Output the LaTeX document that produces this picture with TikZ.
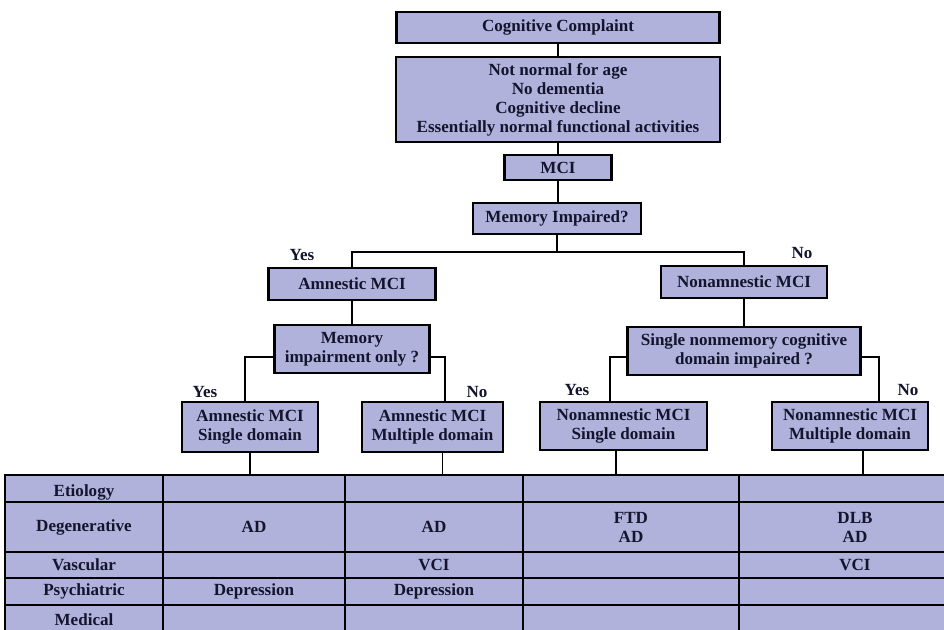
\documentclass[tikz,border=0pt]{standalone}
\usepackage{fontspec}
\setmainfont{Liberation Serif}
\usepackage{xcolor}
\usepackage{tikz}
\usetikzlibrary{positioning}

\definecolor{boxfill}{RGB}{176,178,220}
\definecolor{inkblue}{RGB}{20,20,45}

\begin{document}
\begin{tikzpicture}[
  every node/.style={font=\fontsize{9.7}{10.8}\selectfont\bfseries, text=inkblue},
  box/.style={draw=black, fill=boxfill, line width=1.6pt, align=center, inner sep=2pt},
  link/.style={line width=1.1pt},
  grid/.style={line width=1.1pt},
  frame/.style={line width=1.6pt},
  answer/.style={inner sep=1pt}
]

\clip (0,0) rectangle (18.88,-12.58);

% --- Top of the tree ---
\node[box, minimum width=6.46cm, minimum height=0.62cm] (complaint) at (11.16,-0.55) {Cognitive Complaint};
\node[box, minimum width=6.48cm, minimum height=1.70cm] (criteria) at (11.16,-1.99)
  {Not normal for age\\No dementia\\Cognitive decline\\Essentially normal functional activities};
\node[box, minimum width=2.14cm, minimum height=0.50cm] (mci) at (11.16,-3.35) {MCI};
\node[box, minimum width=3.36cm, minimum height=0.62cm] (memq) at (11.14,-4.37) {Memory Impaired?};

% --- Amnestic / nonamnestic ---
\node[box, minimum width=3.34cm, minimum height=0.64cm] (amci) at (7.04,-5.68) {Amnestic MCI};
\node[box, minimum width=3.32cm, minimum height=0.64cm] (namci) at (14.88,-5.64) {Nonamnestic MCI};
\node[box, minimum width=3.10cm, minimum height=0.96cm] (memonly) at (7.04,-6.98) {Memory\\impairment only ?};
\node[box, minimum width=4.66cm, minimum height=0.96cm] (nonmemq) at (14.88,-7.02) {Single nonmemory cognitive\\domain impaired ?};

% --- Subtypes ---
\node[box, minimum width=2.72cm, minimum height=1.0cm] (amsingle) at (5.0,-8.54) {Amnestic MCI\\Single domain};
\node[box, minimum width=2.82cm, minimum height=1.0cm] (ammulti) at (8.65,-8.54) {Amnestic MCI\\Multiple domain};
\node[box, minimum width=3.34cm, minimum height=0.96cm] (nasingle) at (12.47,-8.52) {Nonamnestic MCI\\Single domain};
\node[box, minimum width=3.12cm, minimum height=0.96cm] (namulti) at (17.0,-8.52) {Nonamnestic MCI\\Multiple domain};

% --- Answers ---
\node[answer] (yes1) at (6.04,-5.1) {Yes};
\node[answer] (no1) at (16.04,-5.06) {No};
\node[answer] (yes2) at (4.1,-7.84) {Yes};
\node[answer] (no2) at (9.54,-7.84) {No};
\node[answer] (yes3) at (11.54,-7.8) {Yes};
\node[answer] (no3) at (18.16,-7.8) {No};

% --- Connectors ---
\coordinate (split) at (11.14,-5.04);
\coordinate (tabtop) at (0.1,-9.5);

\draw[link] (complaint.south) -- (criteria.north);
\draw[link] (criteria.south) -- (mci.north);
\draw[link] (mci.south) -- (mci.south |- memq.north);
\draw[link] (memq.south) -- (split);
\draw[link] (amci.north) |- (split) -| (namci.north);
\draw[link] (amci.south) -- (memonly.north);
\draw[link] (namci.south) -- (nonmemq.north);

\draw[link] ([yshift=-0.16cm]memonly.west) -| ([xshift=-0.1cm]amsingle.north);
\draw[link] ([yshift=-0.16cm]memonly.east) -| ([xshift=0.25cm]ammulti.north);
\draw[link] ([yshift=-0.12cm]nonmemq.west) -| ([xshift=-0.27cm]nasingle.north);
\draw[link] ([yshift=-0.12cm]nonmemq.east) -| ([xshift=0.58cm]namulti.north);

\draw[link] (amsingle.south) -- (amsingle.south |- tabtop);
\draw[link] ([xshift=0.2cm]ammulti.south) -- ([xshift=0.2cm]ammulti.south |- tabtop);
\draw[link] ([xshift=-0.15cm]nasingle.south) -- ([xshift=-0.15cm]nasingle.south |- tabtop);
\draw[link] ([xshift=0.26cm]namulti.south) -- ([xshift=0.26cm]namulti.south |- tabtop);

% --- Etiology table ---
\fill[boxfill] (0.1,-9.5) rectangle (19.5,-13);
\foreach \x in {3.26,6.9,10.46,14.78}
  \draw[grid] (\x,-9.5) -- (\x,-13);
\foreach \y in {-10.04,-11.04,-11.56,-12.1}
  \draw[grid] (0.1,\y) -- (19.5,\y);
\draw[frame] (19.5,-9.5) -- (0.1,-9.5) -- (0.1,-13);

\node (etiology) at (1.68,-9.84) {Etiology};
\node (degen) at (1.68,-10.54) {Degenerative};
\node (vasc) at (1.68,-11.3) {Vascular};
\node (psych) at (1.68,-11.83) {Psychiatric};
\node (medic) at (1.68,-12.4) {Medical};

\node (amsdeg) at (5.08,-10.54) {AD};
\node (amsdep) at (5.08,-11.83) {Depression};
\node (ammdeg) at (8.68,-10.54) {AD};
\node (ammvas) at (8.68,-11.3) {VCI};
\node (ammdep) at (8.68,-11.83) {Depression};
\node[align=center] (nasdeg) at (12.62,-10.54) {FTD\\AD};
\node[align=center] (namdeg) at (17.1,-10.54) {DLB\\AD};
\node (namvas) at (17.1,-11.3) {VCI};

\end{tikzpicture}
\end{document}
